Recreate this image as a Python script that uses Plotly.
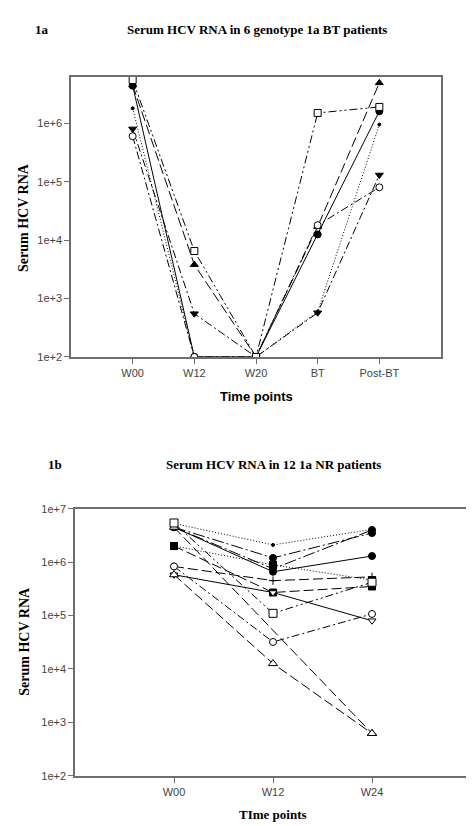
import plotly.graph_objects as go

# ---------------- Panel 1a data ----------------
time_a = ["W00", "W12", "W20", "BT", "Post-BT"]
a_open_square = [5.5e6, 6.5e3, 100, 1.5e6, 1.9e6]
a_tri_up = [4.5e6, 3.8e3, 100, 1.7e4, 4.9e6]
a_tri_down = [8.0e5, 5.5e2, 100, 5.7e2, 1.3e5]
a_filled_circle = [4.4e6, 100, 100, 1.25e4, 1.6e6]
a_open_circle = [6.0e5, 100, 100, 1.8e4, 8.0e4]
a_dot = [1.8e6, 100, 100, 6.0e2, 9.5e5]

# ---------------- Panel 1b data ----------------
time_b = ["W00", "W12", "W24"]
b_open_square = [5.4e6, 1.1e5, 4.2e5]
b_dot = [5.3e6, 2.1e6, 4.1e6]
b_filled_circle = [4.5e6, 6.6e5, 1.3e6]
b_filled_circle2 = [4.5e6, 1.2e6, 3.5e6]
b_filled_square = [2.0e6, 8.9e5, 4.6e5]
b_filled_square2 = [2.0e6, 2.7e5, 3.5e5]
b_plus = [8.3e5, 4.5e5, 5.3e5]
b_tri_down = [5.8e5, 2.7e5, 8.0e4]
b_open_circle = [8.3e5, 3.2e4, 1.07e5]
b_open_tri = [5.8e5, 1.26e4, 6.2e2]
b_open_tri2 = [4.5e6, None, 6.2e2]
b_open_hex = [4.5e6, 7.5e5, 4.0e6]

ytick_vals_a = [1e2, 1e3, 1e4, 1e5, 1e6]
ytick_text_a = ["1e+2", "1e+3", "1e+4", "1e+5", "1e+6"]
ytick_vals_b = [1e2, 1e3, 1e4, 1e5, 1e6, 1e7]
ytick_text_b = ["1e+2", "1e+3", "1e+4", "1e+5", "1e+6", "1e+7"]

DASHDOTDOT = "8px,3px,2px,3px,2px,3px"
LONGDASH = "10px,4px"
DASHDOT = "8px,3px,2px,3px"
DOT = "1px,2px"
LONGDASHDOT = "12px,3px,2px,3px"

fig = go.Figure()


def add(xs, ys, symbol, filled, dash, size, axis):
    xa, ya = axis
    fig.add_trace(go.Scatter(
        x=list(range(len(xs))), y=ys, mode="lines+markers",
        connectgaps=True,
        line=dict(color="black", width=1, dash=dash),
        marker=dict(symbol=symbol, size=size,
                    color="black" if filled else "white",
                    line=dict(color="black", width=1)),
        xaxis=xa, yaxis=ya, showlegend=False, hoverinfo="skip"))


A = ("x", "y")
B = ("x2", "y2")
add(time_a, a_dot, "circle", True, DOT, 3, A)
add(time_a, a_filled_circle, "circle", True, "solid", 7, A)
add(time_a, a_tri_down, "triangle-down", True, DASHDOT, 7, A)
add(time_a, a_tri_up, "triangle-up", True, LONGDASH, 7, A)
add(time_a, a_open_circle, "circle", False, DASHDOT, 7, A)
add(time_a, a_open_square, "square", False, DASHDOTDOT, 7, A)

add(time_b, b_open_hex, "circle", True, LONGDASHDOT, 7, B)
add(time_b, b_filled_circle2, "circle", True, LONGDASHDOT, 7, B)
add(time_b, b_dot, "circle", True, DOT, 3, B)
add(time_b, b_filled_circle, "circle", True, "solid", 7, B)
add(time_b, b_filled_square, "square", True, DOT, 7, B)
add(time_b, b_filled_square2, "square", True, LONGDASH, 7, B)
add(time_b, b_plus, "cross-thin", True, LONGDASH, 6, B)
add(time_b, b_tri_down, "triangle-down", False, "solid", 7, B)
add(time_b, b_open_circle, "circle", False, DASHDOT, 7, B)
add(time_b, b_open_tri, "triangle-up", False, LONGDASH, 8, B)
add(time_b, b_open_tri2, "triangle-up", False, LONGDASH, 8, B)
add(time_b, b_open_square, "square", False, DASHDOTDOT, 8, B)

W, H = 474, 826


def px_x(p):
    return p / W


def px_y(p):
    return 1 - p / H


axis_line = dict(showline=True, linecolor="#6e6e6e", linewidth=1.5, mirror=True,
                 ticks="outside", ticklen=5, tickcolor="#6e6e6e", tickwidth=1,
                 showgrid=False, zeroline=False,
                 tickfont=dict(family="Liberation Sans, Arial", size=11, color="#444444"))

fig.update_layout(
    width=W, height=H, margin=dict(l=0, r=0, t=0, b=0),
    paper_bgcolor="white", plot_bgcolor="white",
    xaxis=dict(domain=[px_x(63), px_x(433)], range=[-1, 5],
               tickvals=list(range(len(time_a))), ticktext=time_a,
               anchor="y", **axis_line),
    yaxis=dict(domain=[px_y(348), px_y(64)], type="log", range=[2, 6.79],
               tickvals=ytick_vals_a, ticktext=ytick_text_a,
               anchor="x", **axis_line),
    xaxis2=dict(domain=[px_x(67), px_x(463)], range=[-1, 3],
                tickvals=list(range(len(time_b))), ticktext=time_b,
                anchor="y2", **axis_line),
    yaxis2=dict(domain=[px_y(773), px_y(502)], type="log", range=[2, 7],
                tickvals=ytick_vals_b, ticktext=ytick_text_b,
                anchor="x2", **axis_line),
)

serif_bold = dict(family="Liberation Serif, Times New Roman", size=13, color="black")
serif_axis = dict(family="Liberation Serif, Times New Roman", size=14, color="black")
title_font = dict(family="Liberation Serif, Times New Roman", size=13, color="black")
ann = []


def text(x, y, s, font, angle=0):
    ann.append(dict(x=px_x(x), y=px_y(y), xref="paper", yref="paper",
                    text=s, showarrow=False, font=font, textangle=angle,
                    xanchor="center", yanchor="middle"))


text(34, 16, "<b>1a</b>", serif_bold)
text(249, 16, "<b>Serum HCV RNA in 6 genotype 1a BT patients</b>", title_font)
text(16, 207, "<b>Serum HCV RNA</b>", serif_axis, -90)
text(248, 388, "<b>Time points</b>",
     dict(family="Liberation Sans, Arial", size=13, color="black"))

text(47, 457, "<b>1b</b>", serif_bold)
text(265, 457, "<b>Serum HCV RNA in 12 1a NR patients</b>", title_font)
text(17, 637, "<b>Serum HCV RNA</b>", serif_axis, -90)
text(265, 812, "<b>TIme points</b>", serif_bold)

fig.update_layout(annotations=ann)
fig.write_html("out.html")
